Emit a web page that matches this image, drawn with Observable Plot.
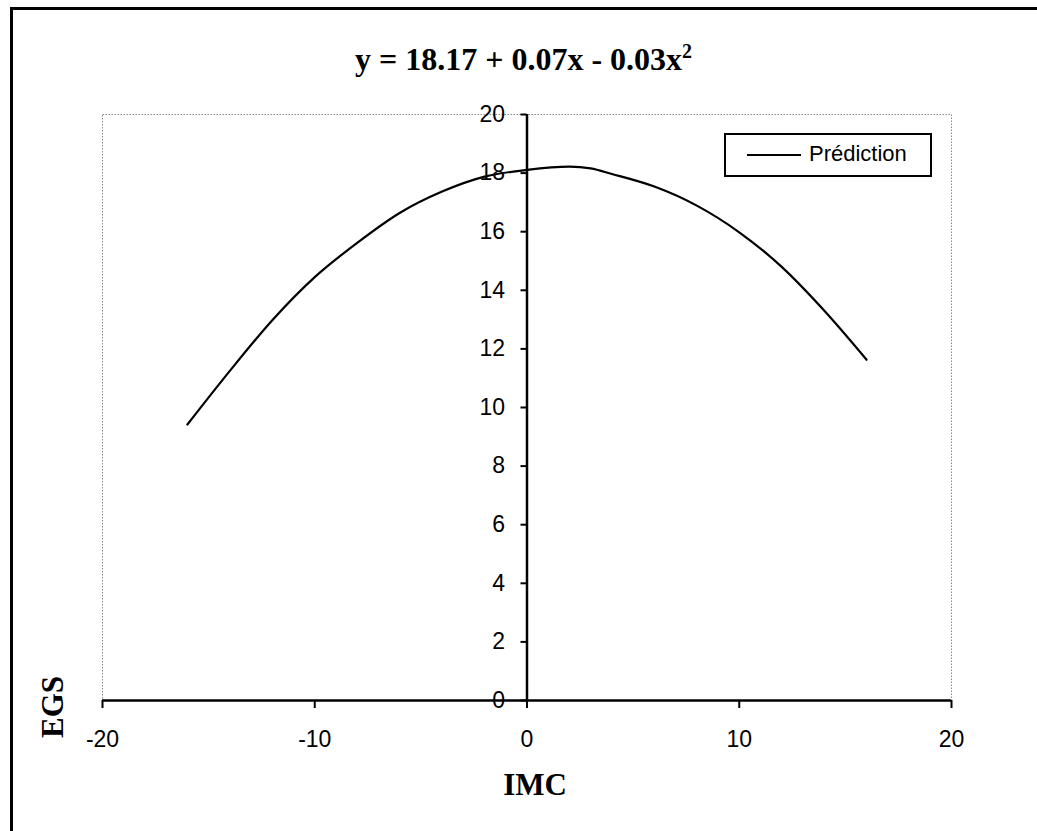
<!DOCTYPE html>
<html>
<head>
<meta charset="utf-8">
<script src="https://cdn.jsdelivr.net/npm/d3@7"></script>
<script src="https://cdn.jsdelivr.net/npm/@observablehq/plot@0.6"></script>
<style>
  html, body { margin: 0; padding: 0; background: #fff; }
  #wrap { position: relative; width: 1037px; height: 831px; overflow: hidden; background: #fff; }
  #outer { position: absolute; left: 10px; top: 7px; width: 1100px; height: 900px; border-top: 3px solid #000; border-left: 3px solid #000; }
  #title { position: absolute; left: 0; width: 1047px; top: 41px; text-align: center; font-family: "Liberation Serif", "Times New Roman", serif; font-weight: bold; font-size: 32px; color: #000; }
  #title sup { font-size: 20px; vertical-align: 12px; line-height: 0; }
  #chart { position: absolute; left: 0; top: 0; }
  #ylabel { position: absolute; left: 53px; top: 707px; transform: translate(-50%, -50%) rotate(-90deg); font-family: "Liberation Serif", serif; font-weight: bold; font-size: 31px; white-space: nowrap; }
  #xlabel { position: absolute; left: 535px; top: 785px; transform: translate(-50%, -50%); font-family: "Liberation Serif", serif; font-weight: bold; font-size: 31px; white-space: nowrap; }
  #legend { position: absolute; left: 724px; top: 133px; width: 204px; height: 40px; border: 2px solid #000; background: #fff; font-family: "Liberation Sans", Arial, sans-serif; font-size: 22px; }
  #legend .ln { position: absolute; left: 21px; top: 19px; width: 54px; height: 0; border-top: 2px solid #000; }
  #legend .tx { position: absolute; left: 83px; top: 6px; }
</style>
</head>
<body>
<div id="wrap">
  <div id="outer"></div>
  <div id="chart"></div>
  <div id="title">y = 18.17 + 0.07x - 0.03x<sup>2</sup></div>
  <div id="ylabel">EGS</div>
  <div id="xlabel">IMC</div>
  <div id="legend"><div class="ln"></div><div class="tx">Prédiction</div></div>
</div>
<script>
const xTicks = [-20, -10, 0, 10, 20];
const yTicks = [0, 2, 4, 6, 8, 10, 12, 14, 16, 18, 20];
const imc = [-16, -14, -12, -10, -8, -6, -4, -2, 0, 2, 3, 4, 6, 8, 10, 12, 14, 16];
const egs = [9.42, 11.25, 12.98, 14.45, 15.62, 16.64, 17.37, 17.88, 18.11, 18.22, 18.16, 17.97, 17.54, 16.89, 15.98, 14.8, 13.31, 11.63];

const data = imc.map((x, i) => ({x, y: egs[i]}));

const chart = Plot.plot({
  width: 1037,
  height: 831,
  marginLeft: 102,
  marginRight: 86,
  marginTop: 114,
  marginBottom: 131,
  style: {background: "transparent", fontFamily: "'Liberation Sans', Arial, sans-serif", color: "#000"},
  x: {domain: [-20, 20], axis: null},
  y: {domain: [0, 20], axis: null},
  marks: [
    Plot.frame({stroke: "#888", strokeDasharray: "1.5,1.5", strokeWidth: 1}),
    Plot.axisX({ticks: xTicks, tickSize: 8, tickPadding: 22, fontSize: 23, label: null, strokeWidth: 2, tickFormat: d => String(d)}),
    Plot.ruleY([0], {stroke: "#000", strokeWidth: 2.5}),
    Plot.ruleX([0], {stroke: "#000", strokeWidth: 2.5}),
    Plot.ruleY(yTicks, {y: d => d, x1: 0, x2: 0, insetLeft: -6, stroke: "#000", strokeWidth: 2}),
    Plot.text(yTicks, {x: 0, y: d => d, text: d => String(d), dx: -22, textAnchor: "end", fontSize: 23, fill: "#000"}),
    Plot.line(data, {x: "x", y: "y", stroke: "#000", strokeWidth: 2.2, curve: "monotone-x"})
  ]
});
document.getElementById("chart").appendChild(chart);
</script>
</body>
</html>
